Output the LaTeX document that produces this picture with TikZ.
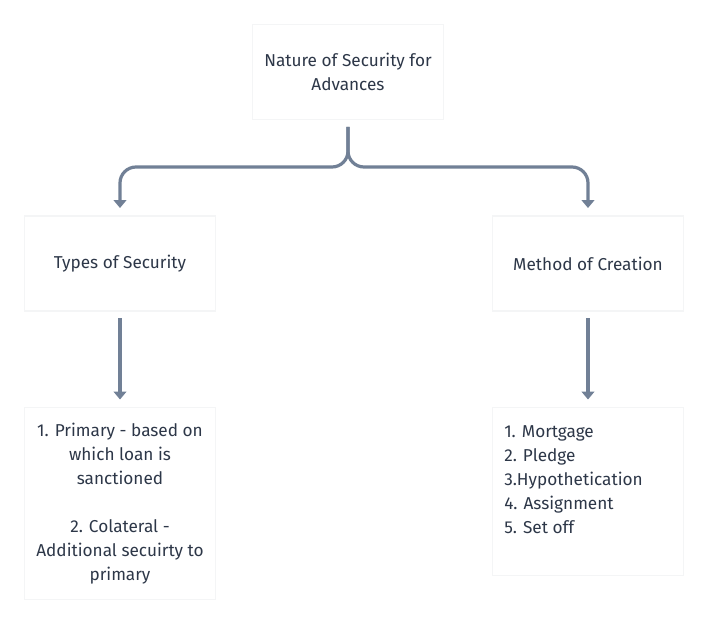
\documentclass[tikz,border=0pt]{standalone}
\usepackage{fontspec}
\setmainfont{Fira Sans}
\usetikzlibrary{arrows.meta}
\definecolor{linec}{HTML}{718096}
\definecolor{textc}{HTML}{2D3748}
\definecolor{shadec}{HTML}{F4F5F6}
\newcommand{\cardfont}{\fontsize{12.9pt}{18pt}\selectfont}
\begin{document}
\begin{tikzpicture}[x=0.75pt,y=-0.75pt,
  card/.style={draw=shadec,line width=1.2pt,fill=white,minimum width=143pt,inner sep=0pt,
    font=\cardfont,text=textc,align=center},
  conn/.style={draw=linec,line width=2.4pt,rounded corners=12pt,
    -{Triangle[width=9.5pt,length=6pt]},shorten <=5pt,shorten >=5.5pt}]
\useasboundingbox[fill=white] (0,0) rectangle (708,624);
\node[card,minimum height=71pt] (top) at (348,72) {Nature of Security for\\Advances};
\node[card,minimum height=71pt] (types) at (120,263.5) {Types of Security};
\node[card,minimum height=71pt] (method) at (588,263.5) {Method of Creation};
\node[card,minimum height=143.75pt] (prim) at (120,503.5) {1. Primary - based on\\which loan is\\sanctioned\\[18pt]2. Colateral -\\Additional secuirty to\\primary};
\node[card,minimum height=125.75pt] (list) at (588,491.5) {};
\node[font=\cardfont,text=textc,align=left,anchor=north west,inner sep=0pt] (listtext) at (504,425)
  {1. Mortgage\\2. Pledge\\3.Hypothetication\\4. Assignment\\5. Set off};
\coordinate (j) at (348,167);
\draw[conn] (top.south) -- (j) -| (types.north);
\draw[conn] (top.south) -- (j) -| (method.north);
\draw[conn] (types.south) -- (prim.north);
\draw[conn] (method.south) -- (list.north);
\end{tikzpicture}
\end{document}
